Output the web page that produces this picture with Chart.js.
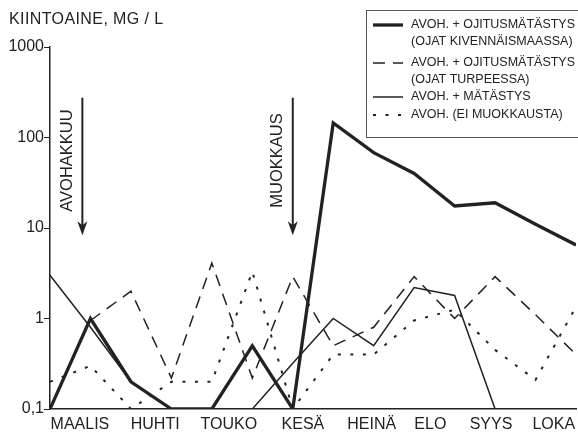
<!DOCTYPE html>
<html>
<head>
<meta charset="utf-8">
<script src="https://cdn.jsdelivr.net/npm/chart.js@4/dist/chart.umd.min.js"></script>
<style>
  html, body { margin: 0; padding: 0; background: #fff; }
  canvas { display: block; }
</style>
</head>
<body>
<canvas id="kiintoaine" width="578" height="432"></canvas>
<script>
// === DATA ===
// half-month sampling points, MAALIS .. LOKA
const months = ['MAALIS', 'HUHTI', 'TOUKO', 'KESÄ', 'HEINÄ', 'ELO', 'SYYS', 'LOKA'];
const monthPos = [0.74, 2.6, 4.42, 6.25, 7.95, 9.4, 10.9, 12.45];
const yTicks = [0.1, 1, 10, 100, 1000];

const kivennaismaa = [0.1, 1.0, 0.2, 0.1, 0.1, 0.5, 0.1, 145, 68, 40, 17.5, 19, 11, 6.5];
const turve = [null, 0.95, 2.0, 0.22, 4.1, 0.22, 2.9, 0.5, 0.8, 2.9, 1.0, 2.9, 1.1, 0.4];
const matastys = [3.0, 0.8, 0.2, 0.1, 0.1, 0.1, 0.32, 1.0, 0.5, 2.2, 1.8, 0.1, null, null];
const eiMuokkausta = [0.2, 0.3, 0.1, 0.2, 0.2, 3.3, 0.1, 0.4, 0.4, 0.95, 1.25, 0.45, 0.21, 1.35];

// events marked with arrows: [label, x position, arrow top, arrow tip]
const events = [
    ['AVOHAKKUU', 0.8, 275, 8.3],
    ['MUOKKAUS', 6.0, 275, 8.3]
];

const INK = '#222';
const FONT = '"Liberation Sans", Arial, sans-serif';

function toPoints(values) {
    return values.map((v, i) => ({ x: i, y: v }));
}

const series = [
    { label: ['AVOH. + OJITUSMÄTÄSTYS', '(OJAT KIVENNÄISMAASSA)'], data: kivennaismaa, width: 3.3, dash: [] },
    { label: ['AVOH. + OJITUSMÄTÄSTYS', '(OJAT TURPEESSA)'], data: turve, width: 1.5, dash: [12, 8] },
    { label: ['AVOH. + MÄTÄSTYS'], data: matastys, width: 1.5, dash: [] },
    { label: ['AVOH. (EI MUOKKAUSTA)'], data: eiMuokkausta, width: 2, dash: [3, 9.5] }
];

// === ARROWS + TITLE + LEGEND ===
const decorations = {
    id: 'decorations',
    afterDraw(chart) {
        const ctx = chart.ctx;
        const xs = chart.scales.x;
        const ys = chart.scales.y;
        ctx.save();
        ctx.fillStyle = INK;
        ctx.strokeStyle = INK;

        // axis title
        ctx.font = '16px ' + FONT;
        ctx.letterSpacing = '0.4px';
        ctx.textAlign = 'left';
        ctx.textBaseline = 'middle';
        ctx.fillText('KIINTOAINE, MG / L', 9, 20);
        ctx.letterSpacing = '0px';

        // event arrows with rotated labels
        events.forEach(([text, xv, top, tip]) => {
            const x = xs.getPixelForValue(xv);
            const y0 = ys.getPixelForValue(top);
            const y1 = ys.getPixelForValue(tip);
            ctx.lineWidth = 2;
            ctx.beginPath();
            ctx.moveTo(x, y0);
            ctx.lineTo(x, y1 - 8);
            ctx.stroke();
            ctx.beginPath();
            ctx.moveTo(x - 5, y1 - 14);
            ctx.lineTo(x, y1);
            ctx.lineTo(x + 5, y1 - 14);
            ctx.lineTo(x, y1 - 10);
            ctx.closePath();
            ctx.fill();

            ctx.save();
            ctx.translate(x - 15, (y0 + y1) / 2 - 6);
            ctx.rotate(-Math.PI / 2);
            ctx.font = '16.5px ' + FONT;
            ctx.textAlign = 'center';
            ctx.textBaseline = 'middle';
            ctx.fillText(text, 0, 0);
            ctx.restore();
        });

        // legend box, right border runs off the canvas
        const bx = 366, by = 10, bw = 220, bh = 127;
        const rows = [25, 63, 97, 115];
        ctx.fillStyle = '#fff';
        ctx.fillRect(bx, by, bw, bh);
        ctx.lineWidth = 1;
        ctx.strokeStyle = '#555';
        ctx.strokeRect(bx + 0.5, by + 0.5, bw, bh);

        ctx.font = '12.5px ' + FONT;
        ctx.textAlign = 'left';
        ctx.textBaseline = 'middle';
        series.forEach((s, i) => {
            const y = rows[i];
            ctx.strokeStyle = INK;
            ctx.lineWidth = s.width;
            ctx.setLineDash(s.dash);
            ctx.beginPath();
            ctx.moveTo(373, y);
            ctx.lineTo(403, y);
            ctx.stroke();
            ctx.setLineDash([]);
            ctx.fillStyle = INK;
            s.label.forEach((line, k) => {
                ctx.fillText(line, 411, y + k * 17);
            });
        });
        ctx.restore();
    }
};

new Chart(document.getElementById('kiintoaine'), {
    type: 'line',
    data: {
        datasets: series.map(s => ({
            label: s.label.join(' '),
            data: toPoints(s.data),
            borderColor: INK,
            borderWidth: s.width,
            borderDash: s.dash,
            pointRadius: 0,
            tension: 0,
            fill: false,
            spanGaps: false
        }))
    },
    options: {
        responsive: false,
        animation: false,
        layout: { padding: { top: 47, right: 2, left: 0, bottom: 0 } },
        plugins: {
            legend: { display: false },
            tooltip: { enabled: false }
        },
        scales: {
            x: {
                type: 'linear',
                min: 0,
                max: 13,
                grid: { display: false, drawTicks: false },
                border: { display: true, color: INK, width: 1.5 },
                afterBuildTicks: axis => {
                    axis.ticks = monthPos.map(v => ({ value: v }));
                },
                afterFit: axis => {
                    axis.height = 23;
                    axis.paddingLeft = 0;
                    axis.paddingRight = 0;
                },
                ticks: {
                    autoSkip: false,
                    maxRotation: 0,
                    padding: 6,
                    color: INK,
                    font: { family: FONT, size: 16 },
                    callback: (v, i) => months[i]
                }
            },
            y: {
                type: 'logarithmic',
                min: 0.1,
                max: 1000,
                grid: { drawOnChartArea: false, drawTicks: true, tickLength: 6, color: INK },
                border: { display: true, color: INK, width: 1.5 },
                afterBuildTicks: axis => {
                    axis.ticks = yTicks.map(v => ({ value: v }));
                },
                afterFit: axis => {
                    axis.width = 50;
                    axis.paddingTop = 0;
                    axis.paddingBottom = 0;
                },
                ticks: {
                    padding: 0,
                    color: INK,
                    font: { family: FONT, size: 16 },
                    callback: v => String(v).replace('.', ',')
                }
            }
        }
    },
    plugins: [decorations]
});
</script>
</body>
</html>
